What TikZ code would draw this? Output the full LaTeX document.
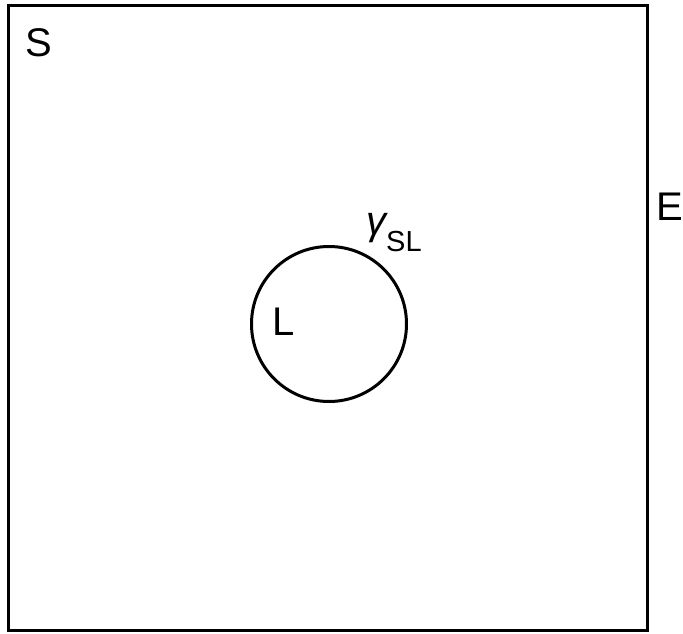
\documentclass[tikz,border=0pt]{standalone}
\usepackage{fontspec}
\setmainfont{Liberation Sans}

\tikzset{
  edge/.style={line width=3pt},
  letter/.style={anchor=base west, inner sep=0pt, font=\fontsize{40}{41}\selectfont},
}

\begin{document}
\begin{tikzpicture}[x=1pt, y=-1pt]
  \useasboundingbox (0,0) rectangle (683,634);
  % solid S with the liquid drop L inside, E outside
  \draw[edge] (8,6) rectangle (647,630);
  \draw[edge] (329,324) circle (77.5);
  \node[letter] (s) at (25,57) {S};
  \node[letter] (e) at (656,220) {E};
  \node[letter] (l) at (272,335) {L};
  \node[letter] (g) at (366,234) {\itshape γ\upshape\raisebox{-17pt}{\fontsize{29}{29}\selectfont SL}};
\end{tikzpicture}
\end{document}
